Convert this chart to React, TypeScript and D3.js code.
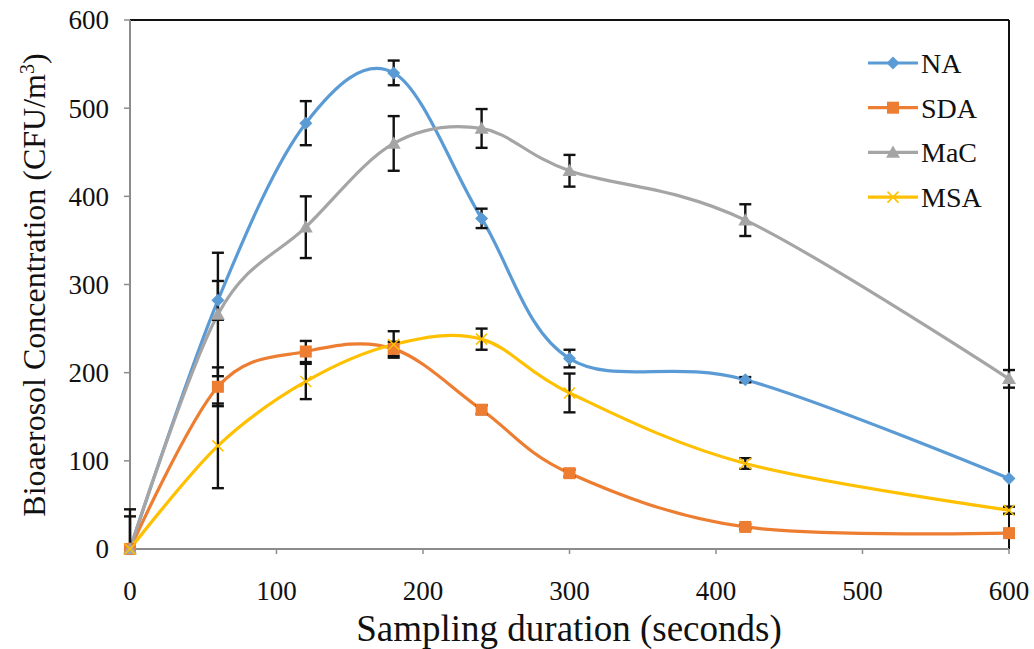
import React from "react";
import * as d3 from "d3";

const times = [0, 60, 120, 180, 240, 300, 420, 600];
const naValues = [0, 282, 483, 540, 375, 216, 192, 80];
const naErrors = [37, 22, 25, 14, 11, 10, 3, 0];
const sdaValues = [0, 184, 224, 227, 158, 86, 25, 18];
const sdaErrors = [0, 22, 12, 8, 5, 4, 3, 2];
const macValues = [0, 266, 365, 460, 477, 429, 373, 193];
const macErrors = [45, 70, 35, 31, 22, 18, 18, 10];
const msaValues = [0, 117, 190, 232, 238, 177, 97, 44];
const msaErrors = [0, 48, 20, 15, 12, 22, 6, 4];
const xTicks = [0, 100, 200, 300, 400, 500, 600];
const yTicks = [0, 100, 200, 300, 400, 500, 600];
const seriesNames = ["NA", "SDA", "MaC", "MSA"];

const colors = ["#5b9bd5", "#ed7d31", "#a5a5a5", "#ffc000"];
const shapes = ["diamond", "square", "triangle", "x"];

const W = 1034, H = 649;
const L = 130, R = 1009, T = 20, B = 549;
const FONT = "Liberation Serif, Times New Roman, DejaVu Serif, serif";

function Marker({ shape, x, y, color }: { shape: string; x: number; y: number; color: string }) {
  if (shape === "diamond") {
    const s = 6.5;
    return <path d={`M${x},${y - s}L${x + s},${y}L${x},${y + s}L${x - s},${y}Z`} fill={color} />;
  }
  if (shape === "square") {
    const s = 6;
    return <rect x={x - s} y={y - s} width={2 * s} height={2 * s} fill={color} />;
  }
  if (shape === "triangle") {
    const s = 7;
    return <path d={`M${x},${y - s}L${x + s},${y + s * 0.75}L${x - s},${y + s * 0.75}Z`} fill={color} />;
  }
  const s = 5.5;
  return (
    <path d={`M${x - s},${y - s}L${x + s},${y + s}M${x - s},${y + s}L${x + s},${y - s}`} stroke={color} strokeWidth={1.6} fill="none" />
  );
}

const txt = { fontFamily: FONT, fill: "#111" } as React.CSSProperties;

export default function App() {
  const x = d3.scaleLinear().domain([0, 600]).range([L, R]);
  const y = d3.scaleLinear().domain([0, 600]).range([B, T]);
  const series = [
    { name: seriesNames[0], values: naValues, errors: naErrors },
    { name: seriesNames[1], values: sdaValues, errors: sdaErrors },
    { name: seriesNames[2], values: macValues, errors: macErrors },
    { name: seriesNames[3], values: msaValues, errors: msaErrors },
  ];
  const line = d3
    .line<number>()
    .x((_, i) => x(times[i]))
    .y((v) => y(v))
    .curve(d3.curveCardinal.tension(0));
  const clampV = (v: number) => Math.max(0, Math.min(600, v));

  return (
    <svg width={W} height={H} style={{ position: "absolute", left: 0, top: 0, background: "#fff" }}>
      <rect x={0} y={0} width={W} height={H} fill="#fff" />
      {/* frame */}
      <line x1={L} y1={T} x2={R} y2={T} stroke="#111" strokeWidth={2} />
      <line x1={R} y1={T} x2={R} y2={B} stroke="#111" strokeWidth={2} />
      <line x1={L} y1={T} x2={L} y2={B} stroke="#8c8c8c" strokeWidth={2} />
      <line x1={L} y1={B} x2={R} y2={B} stroke="#8c8c8c" strokeWidth={2} />
      {/* ticks */}
      {xTicks.map((t) => (
        <g key={"x" + t}>
          <line x1={x(t)} x2={x(t)} y1={B} y2={B + 5} stroke="#8c8c8c" strokeWidth={1.5} />
          <text x={x(t)} y={600} textAnchor="middle" fontSize={27} style={txt}>
            {t}
          </text>
        </g>
      ))}
      {yTicks.map((t) => (
        <g key={"y" + t}>
          <line x1={L - 6} x2={L} y1={y(t)} y2={y(t)} stroke="#8c8c8c" strokeWidth={1.5} />
          <text x={109} y={y(t)} dy="0.35em" textAnchor="end" fontSize={27} style={txt}>
            {t}
          </text>
        </g>
      ))}
      {/* titles */}
      <text x={569} y={641} textAnchor="middle" fontSize={37} style={txt}>
        Sampling duration (seconds)
      </text>
      <text transform={`translate(45,${285}) rotate(-90)`} textAnchor="middle" fontSize={32} style={txt}>
        Bioaerosol Concentration (CFU/m
        <tspan dy={-11} fontSize={20}>3</tspan>
        <tspan dy={11}>)</tspan>
      </text>
      {/* series lines */}
      {series.map((s, si) => (
        <path key={"l" + si} d={line(s.values) || ""} fill="none" stroke={colors[si]} strokeWidth={3.2} />
      ))}
      {/* error bars */}
      {series.map((s, si) =>
        s.values.map((v, i) => {
          if (s.errors[i] <= 0) return null;
          const xi = x(times[i]);
          const hi = v + s.errors[i];
          const lo = v - s.errors[i];
          return (
            <g key={"e" + si + "-" + i} stroke="#111" strokeWidth={2.4}>
              <line x1={xi} x2={xi} y1={y(clampV(hi))} y2={y(clampV(lo))} />
              {hi <= 600 && <line x1={xi - 6} x2={xi + 6} y1={y(hi)} y2={y(hi)} />}
              {lo >= 0 && <line x1={xi - 6} x2={xi + 6} y1={y(lo)} y2={y(lo)} />}
            </g>
          );
        })
      )}
      {/* markers */}
      {series.map((s, si) =>
        s.values.map((v, i) => <Marker key={"m" + si + "-" + i} shape={shapes[si]} x={x(times[i])} y={y(v)} color={colors[si]} />)
      )}
      {/* legend */}
      {series.map((s, si) => {
        const ly = 63 + si * 44.7;
        return (
          <g key={"lg" + si}>
            <line x1={868} x2={918} y1={ly} y2={ly} stroke={colors[si]} strokeWidth={3.2} />
            <Marker shape={shapes[si]} x={893} y={ly} color={colors[si]} />
            <text x={921} y={ly} dy="0.35em" fontSize={28} style={txt}>
              {s.name}
            </text>
          </g>
        );
      })}
    </svg>
  );
}
